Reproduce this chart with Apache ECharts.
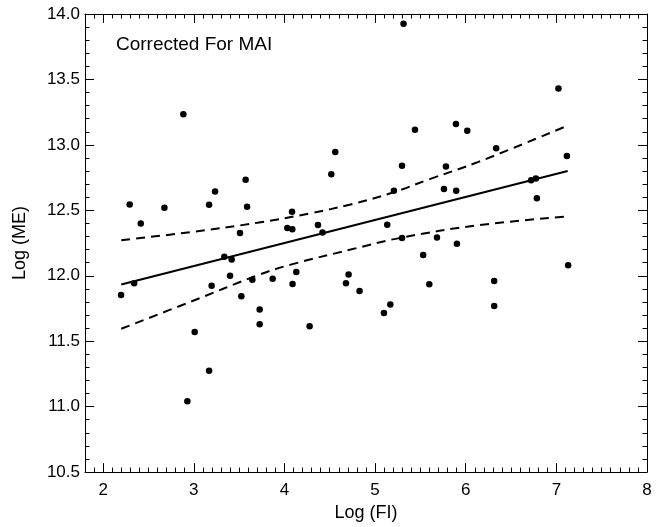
<!DOCTYPE html>
<html>
<head>
<meta charset="utf-8">
<script src="https://cdn.jsdelivr.net/npm/echarts@6/dist/echarts.min.js"></script>
<style>
html,body{margin:0;padding:0;background:#fff;}
#c{width:662px;height:527px;}
</style>
</head>
<body>
<div id="c"></div>
<script>
// ---- data ----
var titleText = 'Corrected For MAI';
var xName = 'Log (FI)';
var yName = 'Log (ME)';
var xTickLabels = [2, 3, 4, 5, 6, 7, 8];
var yTickLabels = [10.5, 11.0, 11.5, 12.0, 12.5, 13.0, 13.5, 14.0];

var logFI = [2.198, 2.293, 2.342, 2.415, 2.676, 2.885, 2.929, 3.010, 3.169, 3.169,
             3.197, 3.235, 3.337, 3.400, 3.418, 3.510, 3.525, 3.572, 3.588, 3.646,
             3.727, 3.727, 3.870, 4.032, 4.084, 4.087, 4.090, 4.131, 4.278, 4.370,
             4.420, 4.517, 4.561, 4.679, 4.708, 4.829, 5.098, 5.134, 5.168, 5.208,
             5.297, 5.297, 5.314, 5.440, 5.531, 5.598, 5.683, 5.760, 5.782, 5.892,
             5.895, 5.903, 6.017, 6.314, 6.314, 6.336, 6.722, 6.774, 6.785, 7.023,
             7.116, 7.130];
var logME = [11.853, 12.545, 11.943, 12.400, 12.520, 13.235, 11.042, 11.570, 12.543, 11.275,
             11.923, 12.643, 12.145, 12.000, 12.125, 12.326, 11.843, 12.733, 12.528, 11.970,
             11.743, 11.630, 11.978, 12.365, 12.490, 12.355, 11.938, 12.028, 11.615, 12.388,
             12.330, 12.775, 12.945, 11.943, 12.010, 11.883, 11.715, 12.390, 11.780, 12.650,
             12.840, 12.288, 13.925, 13.115, 12.158, 11.935, 12.293, 12.663, 12.835, 13.160,
             12.650, 12.245, 13.108, 11.960, 11.770, 12.975, 12.730, 12.743, 12.593, 13.430,
             12.915, 12.080];

var fitX = [2.200, 7.125];
var fitY = [11.933, 12.800];

var upperX = [2.20, 2.96, 3.70, 4.29, 4.73, 5.17, 5.61, 6.14, 7.12];
var upperY = [12.272, 12.333, 12.405, 12.478, 12.545, 12.630, 12.740, 12.870, 13.146];

var lowerX = [2.20, 2.96, 3.73, 4.07, 4.73, 5.28, 6.14, 7.12];
var lowerY = [11.595, 11.800, 12.010, 12.085, 12.200, 12.290, 12.386, 12.453];

// ---- build options ----
function zip(a, b) { var r = []; for (var i = 0; i < a.length; i++) r.push([a[i], b[i]]); return r; }

var xMin = 1.8, xMax = 8;
var xMinor = [];
for (var k = 19; k <= 80; k++) { if (k % 10 !== 0) xMinor.push(k / 10); }

var black = '#000';
var font = 'Liberation Sans, Arial, Helvetica, sans-serif';

function xAx(pos, major, withLabel) {
  return {
    type: 'value', position: pos, min: xMin, max: xMax, gridIndex: 0,
    axisLine: { show: major, onZero: false, lineStyle: { color: black, width: 1 } },
    axisTick: { show: true, inside: true, length: major ? 9 : 4.5,
                customValues: major ? xTickLabels : xMinor,
                lineStyle: { color: black, width: 1 } },
    axisLabel: { show: withLabel, customValues: xTickLabels, color: black,
                 fontSize: 17, fontFamily: font, margin: 10 },
    splitLine: { show: false },
    name: withLabel ? xName : '',
    nameLocation: 'middle', nameGap: 29,
    nameTextStyle: { color: black, fontSize: 18, fontFamily: font }
  };
}
function yAx(pos, withLabel) {
  return {
    type: 'value', position: pos, min: 10.5, max: 14.0, interval: 0.5, gridIndex: 0,
    axisLine: { show: true, onZero: false, lineStyle: { color: black, width: 1 } },
    axisTick: { show: true, inside: true, length: 9, lineStyle: { color: black, width: 1 } },
    minorTick: { show: true, splitNumber: 5, length: 4.5, lineStyle: { color: black, width: 1 } },
    axisLabel: { show: withLabel, color: black, fontSize: 17, fontFamily: font, margin: 5,
                 formatter: function (v) { return v.toFixed(1); } },
    splitLine: { show: false }, minorSplitLine: { show: false },
    name: withLabel ? yName : '',
    nameLocation: 'middle', nameGap: 56,
    nameTextStyle: { color: black, fontSize: 18, fontFamily: font }
  };
}

var option = {
  backgroundColor: '#fff',
  animation: false,
  grid: { left: 85, right: 15, top: 14, bottom: 49, containLabel: false },
  xAxis: [xAx('bottom', true, true), xAx('bottom', false, false), xAx('top', true, false), xAx('top', false, false)],
  yAxis: [yAx('left', true), yAx('right', false)],
  graphic: [{
    type: 'text', left: 116, top: 35,
    style: { text: titleText, fill: black, fontSize: 19, fontFamily: font }
  }],
  series: [
    { type: 'scatter', xAxisIndex: 0, yAxisIndex: 0, data: zip(logFI, logME),
      symbol: 'circle', symbolSize: 6.5, itemStyle: { color: black, opacity: 1 } },
    { type: 'line', xAxisIndex: 0, yAxisIndex: 0, data: zip(fitX, fitY), showSymbol: false,
      lineStyle: { color: black, width: 2 } },
    { type: 'line', xAxisIndex: 0, yAxisIndex: 0, data: zip(upperX, upperY), showSymbol: false, smooth: 0.4,
      lineStyle: { color: black, width: 2, type: [9, 6] } },
    { type: 'line', xAxisIndex: 0, yAxisIndex: 0, data: zip(lowerX, lowerY), showSymbol: false, smooth: 0.4,
      lineStyle: { color: black, width: 2, type: [9, 6] } }
  ]
};
var chart = echarts.init(document.getElementById('c'), null, { renderer: 'canvas' });
chart.setOption(option);
</script>
</body>
</html>
